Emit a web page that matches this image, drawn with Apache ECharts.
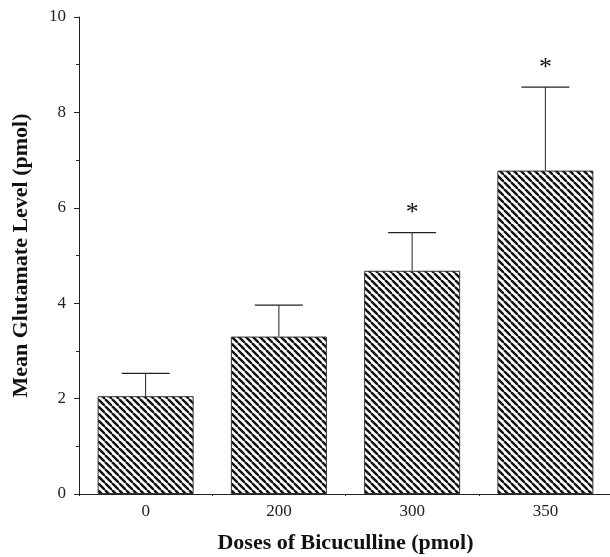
<!DOCTYPE html>
<html>
<head>
<meta charset="utf-8">
<script src="https://cdn.jsdelivr.net/npm/echarts@6/dist/echarts.min.js"></script>
<style>
  html, body { margin: 0; padding: 0; background: #fff; }
  #main { width: 610px; height: 557px; }
</style>
</head>
<body>
<div id="main"></div>
<script>
// chart data
var doses = ['0', '200', '300', '350'];
var meanLevel = [2.05, 3.30, 4.68, 6.78];
var errUpper = [2.53, 3.96, 5.48, 8.53];
var signif = [false, false, true, true];
var yTicks = [0, 2, 4, 6, 8, 10];

var serif = '"Liberation Serif", "DejaVu Serif", serif';

// hatch pattern "\\\\"
function makeHatch() {
    var s = 7;
    var c = document.createElement('canvas');
    c.width = s; c.height = s;
    var ctx = c.getContext('2d');
    ctx.fillStyle = '#fff';
    ctx.fillRect(0, 0, s, s);
    ctx.strokeStyle = '#111';
    ctx.lineWidth = 2.4;
    for (var k = -1; k <= 1; k++) {
        ctx.beginPath();
        ctx.moveTo(k * s, 0);
        ctx.lineTo(k * s + s, s);
        ctx.stroke();
    }
    return c;
}

var chart = echarts.init(document.getElementById('main'));

var errData = doses.map(function (d, i) {
    return [i, meanLevel[i], errUpper[i], signif[i] ? 1 : 0];
});

chart.setOption({
    animation: false,
    grid: { left: 79, top: 17, width: 533, height: 477, containLabel: false, outerBoundsMode: 'none' },
    xAxis: {
        type: 'category',
        data: doses,
        name: 'Doses of Bicuculline (pmol)',
        nameLocation: 'middle',
        nameGap: 38,
        nameTextStyle: { fontFamily: serif, fontWeight: 'bold', fontSize: 22, color: '#111' },
        axisLine: { lineStyle: { color: '#222', width: 1 } },
        axisTick: { show: true, length: 2, lineStyle: { color: '#222' } },
        axisLabel: { fontFamily: serif, fontSize: 17, color: '#222', margin: 9 }
    },
    yAxis: {
        type: 'value',
        min: yTicks[0],
        max: yTicks[yTicks.length - 1],
        interval: 2,
        name: 'Mean Glutamate Level (pmol)',
        nameLocation: 'middle',
        nameGap: 47,
        nameTextStyle: { fontFamily: serif, fontWeight: 'bold', fontSize: 22, color: '#111' },
        axisLine: { show: true, lineStyle: { color: '#222', width: 1 } },
        axisTick: { show: true, length: 5, lineStyle: { color: '#222' } },
        minorTick: { show: true, splitNumber: 2, length: 3, lineStyle: { color: '#222' } },
        splitLine: { show: false },
        axisLabel: { fontFamily: serif, fontSize: 17, color: '#222', margin: 13 }
    },
    series: [{
        type: 'bar',
        data: meanLevel,
        barWidth: 96,
        itemStyle: {
            color: { image: makeHatch(), repeat: 'repeat' },
            borderColor: '#333',
            borderWidth: 1
        }
    }, {
        type: 'custom',
        data: errData,
        z: 3,
        renderItem: function (params, api) {
            var base = api.coord([api.value(0), api.value(1)]);
            var top = api.coord([api.value(0), api.value(2)]);
            var half = 24;
            var children = [{
                type: 'line',
                shape: { x1: base[0], y1: base[1], x2: top[0], y2: top[1] },
                style: { stroke: '#222', lineWidth: 1 }
            }, {
                type: 'line',
                shape: { x1: top[0] - half, y1: top[1], x2: top[0] + half, y2: top[1] },
                style: { stroke: '#222', lineWidth: 1.2 }
            }];
            if (api.value(3)) {
                children.push({
                    type: 'text',
                    style: {
                        text: '*', x: top[0], y: top[1] - 6,
                        align: 'center', verticalAlign: 'bottom',
                        font: '26px ' + serif, fill: '#111'
                    }
                });
            }
            return { type: 'group', children: children };
        }
    }]
});
</script>
</body>
</html>
